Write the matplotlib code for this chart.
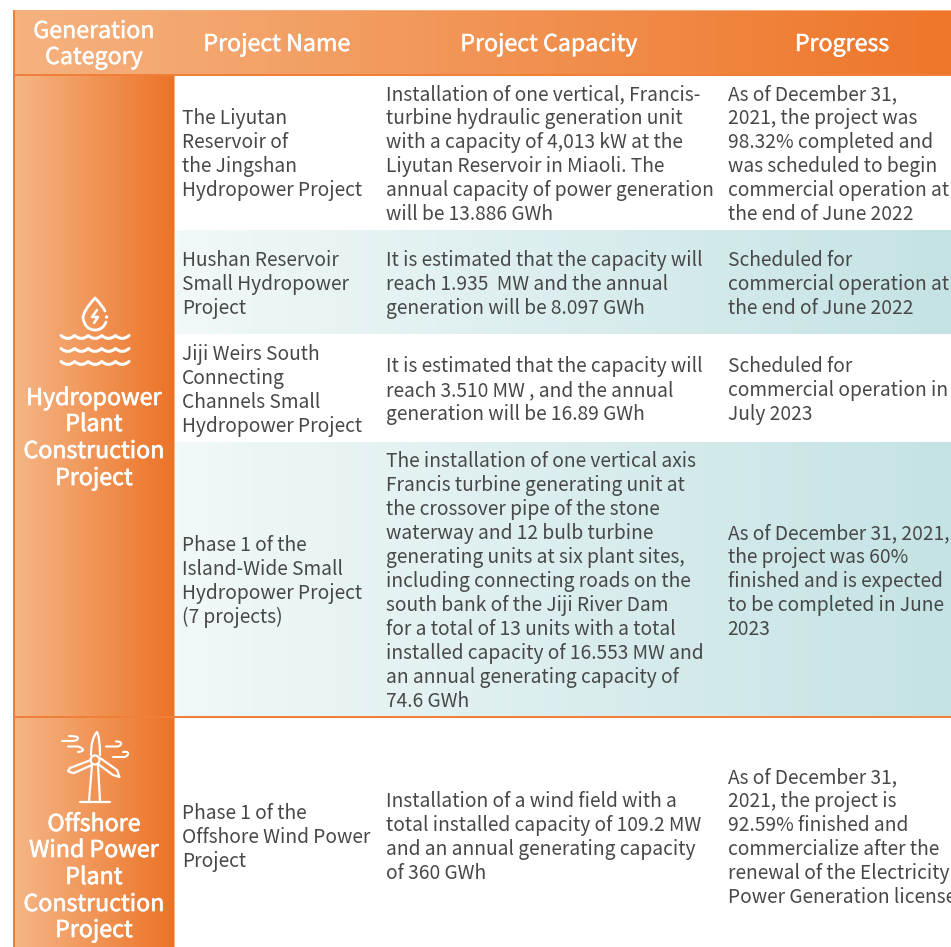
import numpy as np
import matplotlib
matplotlib.use("Agg")
import matplotlib.pyplot as plt
import matplotlib.patheffects as pe
from matplotlib.colors import LinearSegmentedColormap
from matplotlib.path import Path
from matplotlib.patches import PathPatch, Circle, Rectangle

FONT = ['Noto Sans CJK TC', 'Noto Sans CJK SC', 'DejaVu Sans']

headers = ["Project Name", "Project Capacity", "Progress"]
header_first = ["Generation", "Category"]
cat_hydro = ["Hydropower", "Plant", "Construction", "Project"]
cat_wind = ["Offshore", "Wind Power", "Plant", "Construction", "Project"]

names = [
    ["The Liyutan", "Reservoir of", "the Jingshan", "Hydropower Project"],
    ["Hushan Reservoir", "Small Hydropower", "Project"],
    ["Jiji Weirs South", "Connecting", "Channels Small", "Hydropower Project"],
    ["Phase 1 of the", "Island-Wide Small", "Hydropower Project", "(7 projects)"],
    ["Phase 1 of the", "Offshore Wind Power", "Project"],
]
capacity = [
    ["Installation of one vertical, Francis-", "turbine hydraulic generation unit",
     "with a capacity of 4,013 kW at the", "Liyutan Reservoir in Miaoli. The",
     "annual capacity of power generation", "will be 13.886 GWh"],
    ["It is estimated that the capacity will", "reach 1.935  MW and the annual",
     "generation will be 8.097 GWh"],
    ["It is estimated that the capacity will", "reach 3.510 MW , and the annual",
     "generation will be 16.89 GWh"],
    ["The installation of one vertical axis", "Francis turbine generating unit at",
     "the crossover pipe of the stone", "waterway and 12 bulb turbine",
     "generating units at six plant sites,", "including connecting roads on the",
     "south bank of the Jiji River Dam", "for a total of 13 units with a total",
     "installed capacity of 16.553 MW and", "an annual generating capacity of",
     "74.6 GWh"],
    ["Installation of a wind field with a", "total installed capacity of 109.2 MW",
     "and an annual generating capacity", "of 360 GWh"],
]
progress = [
    ["As of December 31,", "2021, the project was", "98.32% completed and",
     "was scheduled to begin", "commercial operation at", "the end of June 2022"],
    ["Scheduled for", "commercial operation at", "the end of June 2022"],
    ["Scheduled for", "commercial operation in", "July 2023"],
    ["As of December 31, 2021,", "the project was 60%", "finished and is expected",
     "to be completed in June", "2023"],
    ["As of December 31,", "2021, the project is", "92.59% finished and",
     "commercialize after the", "renewal of the Electricity", "Power Generation license"],
]

W, H = 951, 947
row_edges = [75, 230, 334, 442, 716, 947]
row_centres = [153, 283, 389, 580, 836]
teal_rows = [1, 3]
col_x = [182, 386, 727.5]
PITCH = 24
ORANGE = "#F07F3A"
TEXT = "#474747"

fig = plt.figure(figsize=(W / 100, H / 100), dpi=100)
ax = fig.add_axes([0, 0, 1, 1])
ax.set_xlim(0, W)
ax.set_ylim(H, 0)
ax.axis("off")


def gradient(x0, x1, y0, y1, c0, c1, z=1):
    cmap = LinearSegmentedColormap.from_list("g", [c0, c1])
    ax.imshow(np.linspace(0, 1, 256)[None, :], cmap=cmap, aspect="auto",
              extent=(x0, x1, y1, y0), zorder=z, interpolation="bilinear")


gradient(15, W, 11, 74, "#F5B27F", "#EE762A")
gradient(15, 174, 76, 947, "#F5B686", "#EC7326")
for r in teal_rows:
    gradient(175, W, row_edges[r], row_edges[r + 1], "#F1F8F8", "#C5E3E4")
ax.set_xlim(0, W)
ax.set_ylim(H, 0)

# frame rules
ax.add_patch(Rectangle((13, 9.5), W - 13, 1.5, color="#F6AE80", lw=0, zorder=2))
ax.add_patch(Rectangle((13, 10), 2, H - 10, color=ORANGE, lw=0, zorder=2))
ax.add_patch(Rectangle((13, 74), W - 13, 2, color=ORANGE, lw=0, zorder=2))
ax.add_patch(Rectangle((13, 716), W - 13, 2, color=ORANGE, lw=0, zorder=3))
ax.add_patch(Rectangle((174, 76), 1, H - 76, color="#F8B48C", lw=0, zorder=2))


def put(x, y, s, size, color=TEXT, ha="left", heavy=0.0):
    t = ax.text(x, y, s, fontsize=size, color=color, ha=ha, va="baseline",
                family=FONT, zorder=5, clip_on=True)
    if heavy:
        t.set_path_effects([pe.withStroke(linewidth=heavy, foreground=color)])


BODY = 13.8
HEAD = 16.7
CAT = 16.7
for ci, col in enumerate([names, capacity, progress]):
    for r, lines in enumerate(col):
        top = row_centres[r] - PITCH * (len(lines) - 1) / 2
        for i, s in enumerate(lines):
            put(col_x[ci], top + i * PITCH + 7, s, BODY)

for s, y in zip(header_first, [38, 64]):
    put(94, y, s, HEAD, "white", "center", 0.35)
for s, x in zip(headers, [277, 549, 842]):
    put(x, 51, s, HEAD, "white", "center", 0.35)
for s, y in zip(cat_hydro, [405, 431, 458, 485]):
    put(94, y, s, CAT, "white", "center", 0.5)
for s, y in zip(cat_wind, [831, 857, 884, 911, 937]):
    put(94, y, s, CAT, "white", "center", 0.5)


def stroke(verts, codes=None, lw=2.0):
    if codes is None:
        codes = [Path.MOVETO] + [Path.LINETO] * (len(verts) - 1)
    ax.add_patch(PathPatch(Path(verts, codes), fc="none", ec="white", lw=lw,
                           capstyle="round", joinstyle="round", zorder=5))


C3 = Path.CURVE3
M = Path.MOVETO
L = Path.LINETO
# water drop with bolt
stroke([(106, 322), (103, 330), (95, 330), (85, 330), (83, 318), (83, 311), (95, 298),
        (102, 305), (105, 311)],
       [M, C3, C3, C3, C3, C3, C3, C3, C3])
ax.add_patch(Circle((106.5, 317), 1.0, color="white", zorder=5))
stroke([(97, 310), (92, 317), (98, 317), (94, 323)], lw=1.8)
# waves
for wy in [337, 350, 363]:
    v, c = [(61, wy - 1.5)], [M]
    for k in range(5):
        x0 = 61 + k * 13.6
        v += [(x0 + 6.8, wy + 4.5), (x0 + 13.6, wy - 1.5)]
        c += [C3, C3]
    stroke(v, c, lw=2.2)

# turbine
stroke([(91, 755), (91, 738), (97, 732), (100, 738), (100, 755)],
       [M, C3, C3, C3, C3], lw=1.6)
stroke([(91, 760), (70, 768), (68, 771), (71, 773), (74, 773), (92, 765)],
       [M, L, L, C3, C3, L], lw=1.6)
stroke([(100, 758), (117, 770), (119.5, 777), (116, 776), (113, 775), (98, 764)],
       [M, L, L, C3, C3, L], lw=1.6)
ax.add_patch(Circle((95, 760), 4.5, fc="none", ec="white", lw=1.6, zorder=5))
stroke([(92, 765), (89, 801)], lw=1.6)
stroke([(98, 765), (100, 801)], lw=1.6)
stroke([(80, 801.5), (110, 801.5)], lw=1.6)
# wind strokes
stroke([(62, 741), (72, 741), (78, 741), (78, 738), (78, 736), (69, 736)],
       [M, L, C3, C3, C3, C3], lw=1.5)
stroke([(68, 746.5), (78, 746.5), (83, 748), (83, 750), (82, 752), (78, 752)],
       [M, L, C3, C3, C3, C3], lw=1.5)
stroke([(106, 746.5), (118, 746.5), (122, 745), (121, 743), (120, 741), (116, 741.5)],
       [M, L, C3, C3, C3, C3], lw=1.5)
stroke([(113, 757), (125, 757), (129, 755), (128, 753), (127, 751), (123, 752)],
       [M, L, C3, C3, C3, C3], lw=1.5)

fig.savefig("out.png", dpi=100)
